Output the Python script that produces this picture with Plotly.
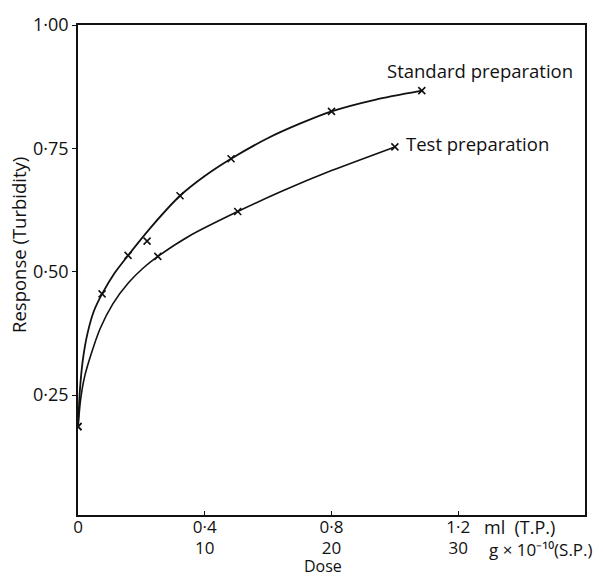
import plotly.graph_objects as go

# Observed points (dose in ml T.P. scale; 1 ml = 25 g x 10^-10 S.P.)
std_dose = [0.0, 0.076, 0.158, 0.322, 0.483, 0.80, 1.085]
std_resp = [0.186, 0.455, 0.533, 0.654, 0.729, 0.825, 0.867]

test_dose = [0.0, 0.218, 0.252, 0.504, 1.0]
test_resp = [0.186, 0.562, 0.531, 0.622, 0.753]

# Hand-drawn fitted curves
std_curve_x = [0.0, 0.006, 0.015, 0.03, 0.05, 0.076, 0.115, 0.158, 0.23, 0.322, 0.40, 0.483, 0.60, 0.70, 0.80, 0.94, 1.085]
std_curve_y = [0.186, 0.26, 0.32, 0.375, 0.42, 0.455, 0.497, 0.533, 0.59, 0.654, 0.694, 0.729, 0.771, 0.80, 0.825, 0.849, 0.867]

test_curve_x = [0.0, 0.008, 0.02, 0.04, 0.07, 0.11, 0.16, 0.205, 0.252, 0.35, 0.504, 0.65, 0.80, 1.0]
test_curve_y = [0.186, 0.24, 0.285, 0.33, 0.385, 0.435, 0.478, 0.507, 0.531, 0.572, 0.622, 0.665, 0.705, 0.753]

y_ticks = [0.25, 0.50, 0.75, 1.00]
y_ticktext = ["0·25", "0·50", "0·75", "1·00"]
x_ticks = [0.0, 0.4, 0.8, 1.2]
x_ticktext = ["0", "0·4", "0·8", "1·2"]
sp_ticks = [10, 20, 30]          # g x 10^-10 (S.P.) scale
sp_ticktext = ["10", "20", "30"]
SP_PER_ML = 25.0

FONT = "Open Sans"
BLACK = "#111111"
FS = 18
TFS = 17
X_MAX = 1.6

fig = go.Figure()
fig.add_trace(go.Scatter(x=std_curve_x, y=std_curve_y, mode="lines",
                         line=dict(color=BLACK, width=1.8, shape="spline", smoothing=0.6), hoverinfo="skip"))
fig.add_trace(go.Scatter(x=test_curve_x, y=test_curve_y, mode="lines",
                         line=dict(color=BLACK, width=1.6, shape="spline", smoothing=0.6), hoverinfo="skip"))
fig.add_trace(go.Scatter(x=std_dose, y=std_resp, mode="markers",
                         marker=dict(symbol="x-thin", size=7, line=dict(color=BLACK, width=1.6))))
fig.add_trace(go.Scatter(x=test_dose, y=test_resp, mode="markers",
                         marker=dict(symbol="x-thin", size=7, line=dict(color=BLACK, width=1.6))))
# invisible trace so the second (S.P.) dose scale is drawn
fig.add_trace(go.Scatter(x=[0], y=[0.5], xaxis="x2", mode="markers",
                         marker=dict(opacity=0), hoverinfo="skip"))

fig.add_annotation(x=0.968, y=0.908, text="Standard preparation", showarrow=False,
                   xanchor="left", yanchor="middle", font=dict(size=18.5, color=BLACK, family=FONT))
fig.add_annotation(x=1.03, y=0.759, text="Test preparation", showarrow=False,
                   xanchor="left", yanchor="middle", font=dict(size=18.5, color=BLACK, family=FONT))

W = 507.0
H = 499.0
fig.add_annotation(x=(482 - 78) / W, y=-(527 - 515) / H, xref="paper", yref="paper",
                   text="ml\u00a0\u00a0(T.P.)", showarrow=False, xanchor="left", yanchor="middle",
                   font=dict(size=18, color=BLACK, family=FONT))
fig.add_annotation(x=(487 - 78) / W, y=-(550 - 515) / H, xref="paper", yref="paper",
                   text="g × 10\u207b\u00b9\u2070(S.P.)", showarrow=False, xanchor="left", yanchor="middle",
                   font=dict(size=TFS, color=BLACK, family=FONT))
fig.add_annotation(x=(323 - 78) / W, y=-(567 - 515) / H, xref="paper", yref="paper",
                   text="Dose", showarrow=False, xanchor="center", yanchor="middle",
                   font=dict(size=16, color=BLACK, family=FONT))
fig.add_annotation(x=-(78 - 19) / W, y=(515 - 240) / H, xref="paper", yref="paper",
                   text="Response (Turbidity)", showarrow=False, textangle=-90,
                   xanchor="center", yanchor="middle",
                   font=dict(size=18.5, color=BLACK, family=FONT))

fig.update_layout(
    width=603, height=576,
    margin=dict(l=78, r=18, t=16, b=61),
    paper_bgcolor="white", plot_bgcolor="white",
    showlegend=False,
    font=dict(family=FONT, size=FS, color=BLACK),
    xaxis=dict(range=[0, X_MAX], tickvals=x_ticks, ticktext=x_ticktext,
               showgrid=False, zeroline=False, showline=True, linecolor=BLACK, linewidth=1.5,
               mirror=True, ticks="inside", ticklen=4, tickcolor=BLACK, ticklabelstandoff=-4,
               tickfont=dict(size=TFS, family=FONT, color=BLACK)),
    xaxis2=dict(range=[0, X_MAX * SP_PER_ML], tickvals=sp_ticks, ticktext=sp_ticktext,
                overlaying="x", anchor="y", side="bottom",
                showgrid=False, zeroline=False, showline=False, ticks="",
                ticklabelstandoff=21,
                tickfont=dict(size=TFS, family=FONT, color=BLACK)),
    yaxis=dict(range=[0.007, 1.0], tickvals=y_ticks, ticktext=y_ticktext,
               showgrid=False, zeroline=False, showline=True, linecolor=BLACK, linewidth=1.5,
               mirror=True, ticks="outside", ticklen=4, tickcolor=BLACK,
               tickfont=dict(size=FS, family=FONT, color=BLACK)),
)

fig.write_html("out.html")
